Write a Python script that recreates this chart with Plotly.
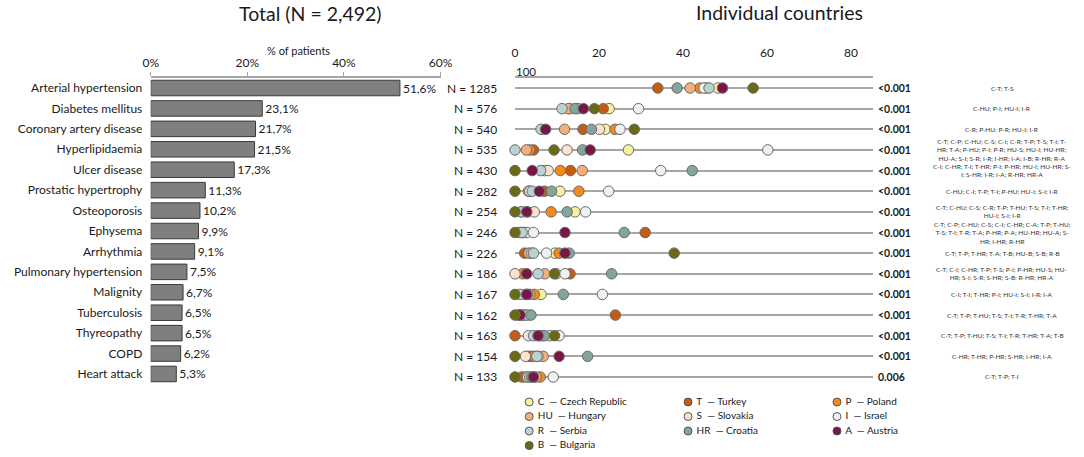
import plotly.graph_objects as go

W, H = 1084, 457

conditions = ["Arterial hypertension", "Diabetes mellitus", "Coronary artery disease",
              "Hyperlipidaemia", "Ulcer disease", "Prostatic hypertrophy", "Osteoporosis",
              "Ephysema", "Arrhythmia", "Pulmonary hypertension", "Malignity",
              "Tuberculosis", "Thyreopathy", "COPD", "Heart attack"]
total_pct = [51.6, 23.1, 21.7, 21.5, 17.3, 11.3, 10.2, 9.9, 9.1, 7.5, 6.7, 6.5, 6.5, 6.2, 5.3]
n_patients = [1285, 576, 540, 535, 430, 282, 254, 246, 226, 186, 167, 162, 163, 154, 133]
p_values = ["<0.001", "<0.001", "<0.001", "<0.001", "<0.001", "<0.001", "<0.001", "<0.001",
            "<0.001", "<0.001", "<0.001", "<0.001", "<0.001", "<0.001", "0.006"]
comparisons = [
    "C-T; T-S",
    "C-HU; P-I; HU-I; I-R",
    "C-R; P-HU; P-R; HU-I; I-R",
    "C-T; C-P; C-HU; C-S; C-I; C-R; T-P; T-S; T-I; T-<br>HR; T-A; P-HU; P-I; P-R; HU-S; HU-I; HU-HR;<br>HU-A; S-I; S-R; I-R; I-HR; I-A; I-B; R-HR; R-A",
    "C-I; C-HR; T-I; T-HR; P-I; P-HR; HU-I; HU-HR; S-<br>I; S-HR; I-R; I-A; R-HR; HR-A",
    "C-HU; C-I; T-P; T-I; P-HU; HU-I; S-I; I-R",
    "C-T; C-HU; C-S; C-R; T-P; T-HU; T-S; T-I; T-HR;<br>HU-I; S-I; I-R",
    "C-T; C-P; C-HU; C-S; C-I; C-HR; C-A; T-P; T-HU;<br>T-S; T-I; T-R; T-A; P-HR; P-A; HU-HR; HU-A; S-<br>HR; I-HR; R-HR",
    "C-T; T-P; T-HR; T-A; T-B; HU-B; S-B; R-B",
    "C-T; C-I; C-HR; T-P; T-S; P-I; P-HR; HU-S; HU-<br>HR; S-I; S-R; S-HR; S-B; R-HR; HR-A",
    "C-I; T-I; T-HR; P-I; HU-I; S-I; I-R; I-A",
    "C-T; T-P; T-HU; T-S; T-I; T-R; T-HR; T-A",
    "C-T; T-P; T-HU; T-S; T-I; T-R; T-HR; T-A; T-B",
    "C-HR; T-HR; P-HR; S-HR; I-HR; I-A",
    "C-T; T-P; T-I",
]

dot_ticks = [0, 20, 40, 60, 80]
bar_ticks = [0, 20, 40, 60]

country_codes = ["C", "T", "P", "HU", "S", "I", "R", "HR", "A", "B"]
country_names = ["Czech Republic", "Turkey", "Poland", "Hungary", "Slovakia", "Israel",
                 "Serbia", "Croatia", "Austria", "Bulgaria"]
country_colors = ["#f6f29e", "#c65c12", "#f5891c", "#f3b07c", "#fbe2cf", "#eef1f1",
                  "#b9d2d2", "#83a59e", "#7a1548", "#6b6a14"]

pct_C = [48.3, 22.4, 21.5, 27.0, 7.0, 10.7, 14.3, 1.0, 9.5, 9.8, 6.2, 1.0, 8.3, 3.0, 2.5]
pct_T = [34.0, 21.0, 16.2, 4.4, 13.2, 7.0, 1.5, 31.0, 2.3, 13.1, 2.5, 23.9, 0.0, 3.8, 1.6]
pct_P = [44.0, 13.0, 23.8, 3.5, 10.8, 15.2, 8.6, 2.0, 10.5, 1.8, 4.6, 0.8, 6.5, 4.5, 6.0]
pct_HU = [41.7, 12.7, 11.8, 2.7, 16.0, 3.2, 3.0, 1.5, 3.3, 7.1, 3.5, 1.5, 6.0, 6.7, 5.0]
pct_S = [45.5, 15.0, 20.1, 12.4, 7.9, 3.5, 4.6, 2.8, 4.0, 0.0, 3.0, 2.0, 3.2, 2.5, 3.0]
pct_I = [45.0, 29.4, 25.0, 60.2, 34.7, 22.3, 16.8, 4.4, 7.5, 11.9, 20.8, 2.5, 10.5, 5.5, 9.1]
pct_R = [46.2, 11.2, 6.2, 0.0, 6.1, 4.1, 1.6, 1.7, 4.4, 5.5, 1.2, 3.0, 4.4, 5.2, 3.5]
pct_HR = [38.6, 14.3, 18.2, 16.1, 42.2, 8.7, 12.4, 26.0, 12.9, 23.0, 11.5, 3.8, 7.0, 17.3, 4.0]
pct_A = [49.4, 16.3, 7.3, 17.9, 4.1, 5.8, 2.8, 11.9, 11.9, 2.8, 2.8, 1.2, 5.5, 10.5, 4.4]
pct_B = [56.7, 18.9, 28.4, 9.3, 0.0, 0.0, 0.0, 0.0, 37.9, 9.4, 0.0, 0.0, 9.4, 0.0, 0.0]
country_values = [pct_C, pct_T, pct_P, pct_HU, pct_S, pct_I, pct_R, pct_HR, pct_A, pct_B]

# legend layout: columns of country indices
legend_columns = [[0, 3, 6, 9], [1, 4, 7], [2, 5, 8]]
legend_cols = [0.5, 3.22, 5.77]    # legend-axis units
LEG_X0, LEG_X1 = 500, 1084         # legend box (px)
LEG_Y0, LEG_Y1 = 392, 457

FONT = "Lato, 'Open Sans', sans-serif"
TXT = "#1a1a1a"

fig = go.Figure()

# --- left: totals bar chart
fig.add_trace(go.Bar(
    x=total_pct, y=conditions, orientation="h",
    xaxis="x", yaxis="y", width=0.76,
    marker=dict(color="#7f7f7f", line=dict(color="#3a3a3a", width=1)),
    text=[f"{v:.1f}%".replace(".", ",") for v in total_pct],
    textposition="outside", cliponaxis=False,
    textfont=dict(size=12, color=TXT, family=FONT),
    showlegend=False, hoverinfo="skip",
))

# --- right: per-country dots
for code, name, color, vals in zip(country_codes, country_names, country_colors, country_values):
    fig.add_trace(go.Scatter(
        x=vals, y=conditions, mode="markers", xaxis="x2", yaxis="y2",
        marker=dict(size=10.5, color=color, line=dict(color="#6a6a6a", width=1)),
        cliponaxis=False, showlegend=False, name=name,
    ))

# --- custom legend (hidden axes)
lx, ly, ltxt, lcol = [], [], [], []
for ci, col in enumerate(legend_columns):
    for ri, idx in enumerate(col):
        lx.append(legend_cols[ci])
        ly.append(ri)
        ltxt.append("\u00a0" + country_codes[idx] + "\u00a0\u00a0\u2014\u00a0" + country_names[idx])
        lcol.append(country_colors[idx])
fig.add_trace(go.Scatter(
    x=lx, y=ly, mode="markers+text", xaxis="x3", yaxis="y3",
    marker=dict(size=8, color=lcol, line=dict(color="#555555", width=1)),
    text=ltxt, textposition="middle right",
    textfont=dict(size=10, color=TXT, family=FONT),
    cliponaxis=False, showlegend=False, hoverinfo="skip",
))

bar_top, bar_bot = 77.8, 384.2
dot_top, dot_bot = 77.7, 387.3

annotations = []
for i, c in enumerate(conditions):
    annotations.append(dict(
        x=499 / W, xref="paper", y=c, yref="y2", xanchor="right", yanchor="middle",
        text=f"N = {n_patients[i]}", showarrow=False,
        font=dict(size=12, color=TXT, family=FONT)))
    annotations.append(dict(
        x=876 / W, xref="paper", y=c, yref="y2", xanchor="left", yanchor="middle",
        text=f"<b>{p_values[i]}</b>", showarrow=False,
        font=dict(size=10.5, color=TXT, family=FONT)))
    annotations.append(dict(
        x=1002 / W, xref="paper", y=c, yref="y2", xanchor="center", yanchor="middle",
        text=comparisons[i], showarrow=False, align="center",
        font=dict(size=6.5, color="#333333", family=FONT)))

annotations += [
    dict(x=310 / W, y=1 - 13 / H, xref="paper", yref="paper", text="Total (N = 2,492)",
         showarrow=False, xanchor="center", yanchor="middle",
         font=dict(size=19.5, color=TXT, family=FONT)),
    dict(x=779 / W, y=1 - 12 / H, xref="paper", yref="paper", text="Individual countries",
         showarrow=False, xanchor="center", yanchor="middle",
         font=dict(size=19.5, color=TXT, family=FONT)),
    dict(x=298 / W, y=1 - 50 / H, xref="paper", yref="paper", text="% of patients",
         showarrow=False, xanchor="center", yanchor="middle",
         font=dict(size=11, color=TXT, family=FONT)),
    dict(x=526 / W, y=1 - 71 / H, xref="paper", yref="paper", text="100",
         showarrow=False, xanchor="center", yanchor="middle",
         font=dict(size=11.5, color=TXT, family=FONT)),
]

fig.update_layout(
    width=W, height=H, autosize=False,
    margin=dict(l=0, r=0, t=0, b=0, pad=0),
    paper_bgcolor="white", plot_bgcolor="rgba(0,0,0,0)",
    font=dict(family=FONT, color=TXT),
    xaxis=dict(domain=[150.7 / W, 440.5 / W], range=[0, 60], side="top", anchor="y",
               tickvals=bar_ticks, ticktext=[f"{t}%" for t in bar_ticks],
               showline=True, linecolor="#a6a6a6", linewidth=1.5,
               ticks="outside", ticklen=4, tickcolor="#a6a6a6", tickwidth=1,
               showgrid=False, zeroline=False, automargin=False,
               tickfont=dict(size=12, color=TXT)),
    yaxis=dict(domain=[1 - bar_bot / H, 1 - bar_top / H], anchor="x", type="category",
               range=[14.5, -0.5], showgrid=False, showline=False, zeroline=False,
               ticks="outside", ticklen=5, tickcolor="rgba(0,0,0,0)", automargin=False,
               tickfont=dict(size=12, color=TXT)),
    xaxis2=dict(domain=[515 / W, 873 / W], range=[0, 358 / 4.2], side="top", anchor="y2",
                tickvals=dot_ticks, showline=True, linecolor="#a6a6a6", linewidth=1.5,
                ticks="outside", ticklen=14, tickcolor="rgba(0,0,0,0)",
                showgrid=False, zeroline=False, automargin=False,
                tickfont=dict(size=12, color=TXT)),
    yaxis2=dict(domain=[1 - dot_bot / H, 1 - dot_top / H], anchor="x2", type="category",
                range=[14.5, -0.5], showgrid=True, gridcolor="#a6a6a6", gridwidth=1.5,
                showticklabels=False, showline=False, zeroline=False, automargin=False),
    xaxis3=dict(domain=[LEG_X0 / W, LEG_X1 / W], range=[0, 10], visible=False,
                anchor="y3", fixedrange=True, automargin=False),
    yaxis3=dict(domain=[1 - LEG_Y1 / H, 1 - LEG_Y0 / H], range=[3.79, -0.69], visible=False,
                anchor="x3", fixedrange=True, automargin=False),
    annotations=annotations,
)

fig.write_html(
    "out.html",
    config={"displayModeBar": False},
    post_script="document.body.style.margin='0px';document.body.style.overflow='hidden';",
)
